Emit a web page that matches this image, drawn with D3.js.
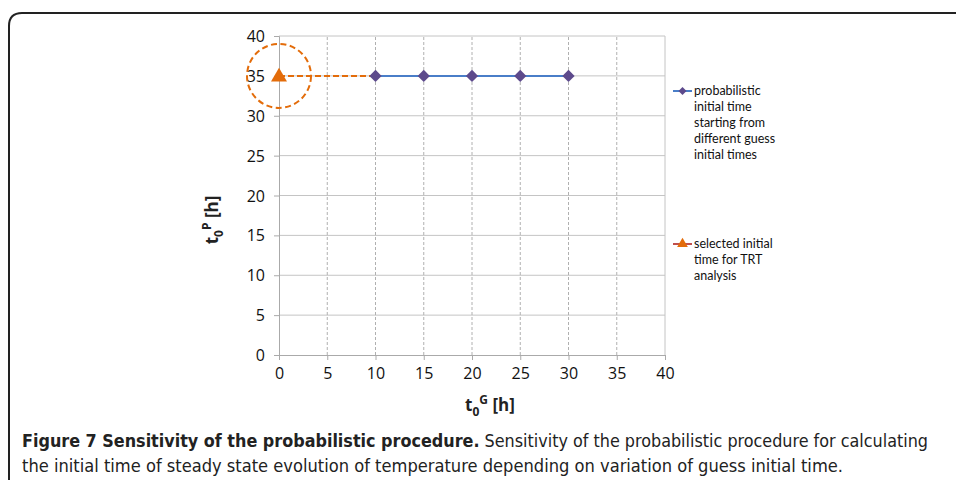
<!DOCTYPE html>
<html><head><meta charset="utf-8">
<script src="https://cdn.jsdelivr.net/npm/d3@7"></script>
<style>
html,body{margin:0;padding:0;background:#fff;}
svg{display:block;}
</style></head>
<body>
<svg id="c" width="956" height="481"></svg>
<script>
// ---- data ----
const xTicks = [0,5,10,15,20,25,30,35,40];
const yTicks = [0,5,10,15,20,25,30,35,40];
const guessTimes = [10,15,20,25,30];          // t0G [h]
const probTimes  = [35,35,35,35,35];          // t0P [h]
const selectedX = [0];
const selectedY = [35];
const legendProb = ["probabilistic","initial time","starting from","different guess","initial times"];
const legendSel  = ["selected initial","time for TRT","analysis"];
const captionBold = "Figure 7 Sensitivity of the probabilistic procedure.";
const captionRest1 = " Sensitivity of the probabilistic procedure for calculating";
const captionLine2 = "the initial time of steady state evolution of temperature depending on variation of guess initial time.";

const svg = d3.select("#c");
const FONT = "'Open Sans', 'DejaVu Sans', sans-serif";

// frame
svg.append("path")
  .attr("d","M9,480 L9,26 Q9,13 22,13 L970,13")
  .attr("fill","none").attr("stroke","#222").attr("stroke-width",2);

const x = d3.scaleLinear().domain([0,40]).range([279,665]);
const y = d3.scaleLinear().domain([0,40]).range([355,36]);

// grid
const g = svg.append("g");
g.selectAll("line.h").data(yTicks.filter(d=>d>0)).join("line")
  .attr("x1",x(0)).attr("x2",x(40)).attr("y1",d=>y(d)).attr("y2",d=>y(d))
  .attr("stroke","#c4c4c4").attr("stroke-width",1);
g.selectAll("line.v").data(xTicks.filter(d=>d>0&&d<40)).join("line")
  .attr("y1",y(0)).attr("y2",y(40)).attr("x1",d=>x(d)).attr("x2",d=>x(d))
  .attr("stroke","#b0b0b0").attr("stroke-width",1).attr("stroke-dasharray","3,2");
g.append("line").attr("x1",x(40)).attr("x2",x(40)).attr("y1",y(0)).attr("y2",y(40))
  .attr("stroke","#c4c4c4");

// axes
const xAxis = svg.append("g").attr("transform",`translate(0,${y(0)})`)
  .call(d3.axisBottom(x).tickValues(xTicks).tickSize(5).tickPadding(8));
const yAxis = svg.append("g").attr("transform",`translate(${x(0)},0)`)
  .call(d3.axisLeft(y).tickValues(yTicks).tickSize(5).tickPadding(9));
[xAxis,yAxis].forEach(a=>{
  a.attr("font-size",null).attr("font-family",null);
  a.select(".domain").attr("stroke","#aaa");
  a.selectAll(".tick line").attr("stroke","#aaa");
  a.selectAll(".tick text").style("font-family",FONT).style("font-size","16px").attr("fill","#111");
});
yAxis.selectAll(".tick text").attr("dy","0.35em");

// axis titles
const xt = svg.append("text").attr("x",490).attr("y",411).attr("text-anchor","middle")
  .attr("font-family",FONT).attr("font-weight","bold").attr("font-size",17).attr("fill","#222");
xt.append("tspan").text("t");
xt.append("tspan").text("0").attr("font-size",12).attr("dy",5);
xt.append("tspan").text("G").attr("font-size",12).attr("dx",0).attr("dy",-12);
xt.append("tspan").text(" [h]").attr("dy",7);

const yt = svg.append("text").attr("transform","translate(218,220) rotate(-90)").attr("text-anchor","middle")
  .attr("font-family",FONT).attr("font-weight","bold").attr("font-size",17).attr("fill","#222");
yt.append("tspan").text("t");
yt.append("tspan").text("0").attr("font-size",12).attr("dy",5);
yt.append("tspan").text("P").attr("font-size",12).attr("dx",0).attr("dy",-12);
yt.append("tspan").text(" [h]").attr("dy",7);

// series: connector dashed orange from selected to first probabilistic
const orange = "#E36C0A";
svg.append("line")
  .attr("x1",x(selectedX[0])).attr("y1",y(selectedY[0]))
  .attr("x2",x(guessTimes[0])).attr("y2",y(probTimes[0]))
  .attr("stroke",orange).attr("stroke-width",2).attr("stroke-dasharray","6,3");

// circle highlight
svg.append("circle").attr("cx",x(selectedX[0])).attr("cy",y(selectedY[0])).attr("r",32)
  .attr("fill","none").attr("stroke",orange).attr("stroke-width",2).attr("stroke-dasharray","6,3.5");

// probabilistic line
const line = d3.line().x(d=>x(d[0])).y(d=>y(d[1]));
const probData = guessTimes.map((t,i)=>[t,probTimes[i]]);
svg.append("path").datum(probData).attr("d",line)
  .attr("fill","none").attr("stroke","#4A7EC8").attr("stroke-width",2);
svg.selectAll("path.dia").data(probData).join("path")
  .attr("transform",d=>`translate(${x(d[0])},${y(d[1])}) rotate(45)`)
  .attr("d",d3.symbol().type(d3.symbolSquare).size(75))
  .attr("fill","#5D4A8C");

// selected triangle
const selData = selectedX.map((t,i)=>[t,selectedY[i]]);
svg.selectAll("path.tri").data(selData).join("path")
  .attr("transform",d=>`translate(${x(d[0])},${y(d[1])+1})`)
  .attr("d",d3.symbol().type(d3.symbolTriangle).size(110))
  .attr("fill",orange);

// legend
function legendEntry(y0, lines, lineColor, markerFn){
  svg.append("line").attr("x1",673).attr("x2",692).attr("y1",y0).attr("y2",y0)
    .attr("stroke",lineColor).attr("stroke-width",2);
  markerFn(682.5,y0);
  const t = svg.append("text").attr("font-family","Lato, 'Open Sans', sans-serif").attr("font-size",12.5).attr("fill","#111");
  lines.forEach((l,i)=>t.append("tspan").attr("x",694).attr("y",y0+4+i*16).text(l));
}
legendEntry(91, legendProb, "#4A7EC8", (cx,cy)=>{
  svg.append("path").attr("transform",`translate(${cx},${cy}) rotate(45)`)
    .attr("d",d3.symbol().type(d3.symbolSquare).size(32)).attr("fill","#5D4A8C");
});
legendEntry(244, legendSel, "#C0504D", (cx,cy)=>{
  svg.append("path").attr("transform",`translate(${cx},${cy})`)
    .attr("d",d3.symbol().type(d3.symbolTriangle).size(50)).attr("fill",orange);
});

// caption
const CAP = "'Liberation Sans Narrow', 'DejaVu Sans Condensed', 'Liberation Sans', sans-serif";
const c1 = svg.append("text").attr("x",22).attr("y",447).attr("font-family",CAP).attr("font-size",18.5).attr("fill","#222")
  .attr("textLength",906).attr("lengthAdjust","spacingAndGlyphs");
c1.append("tspan").attr("font-weight","bold").text(captionBold);
c1.append("tspan").text(captionRest1);
svg.append("text").attr("x",22).attr("y",472).attr("font-family",CAP).attr("font-size",18.5).attr("fill","#222")
  .attr("textLength",821).attr("lengthAdjust","spacingAndGlyphs").text(captionLine2);
</script>
</body></html>
